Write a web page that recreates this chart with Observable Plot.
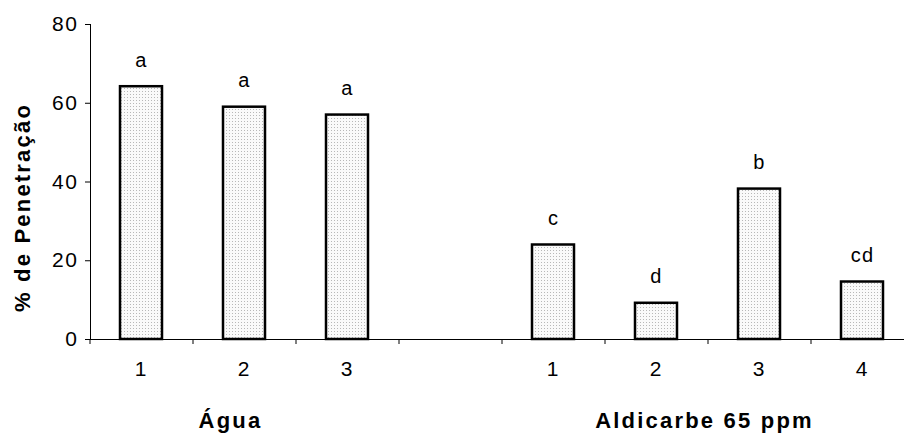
<!DOCTYPE html>
<html>
<head>
<meta charset="utf-8">
<script src="https://cdn.jsdelivr.net/npm/d3@7"></script>
<script src="https://cdn.jsdelivr.net/npm/@observablehq/plot@0.6"></script>
<style>
  html, body { margin: 0; padding: 0; background: #fff; overflow: hidden; }
  #chart svg { font-family: "Liberation Sans", Arial, sans-serif; letter-spacing: 1.2px; }
  #chart svg g[font-weight="bold"] { letter-spacing: 2.2px; }
  #chart svg g[aria-label$="tick label"] { font-size: 21px; letter-spacing: 1.6px; }
</style>
</head>
<body>
<div id="chart"></div>
<script>
// ---- data ----
const groupOf = ["Água", "Água", "Água", "Aldicarbe 65 ppm", "Aldicarbe 65 ppm", "Aldicarbe 65 ppm", "Aldicarbe 65 ppm"];
const levels = ["1", "2", "3", "1", "2", "3", "4"];
const penetration = [64.2, 59.0, 57.0, 24.0, 9.2, 38.2, 14.6];
const letters = ["a", "a", "a", "c", "d", "b", "cd"];
const yTicks = [0, 20, 40, 60, 80];
const yTitle = "% de Penetração";

// ---- table ----
const rows = levels.map((lv, i) => ({
  key: groupOf[i] + "-" + lv,
  group: groupOf[i],
  level: lv,
  value: penetration[i],
  letter: letters[i]
}));
const gapKey = "gap";
const domain = [
  ...rows.filter(d => d.group === "Água").map(d => d.key),
  gapKey,
  ...rows.filter(d => d.group !== "Água").map(d => d.key)
];
const labelOf = new Map(rows.map(d => [d.key, d.level]));
const step = 103;

const chart = Plot.plot({
  width: 904,
  height: 433,
  marginTop: 24,
  marginBottom: 94,
  marginLeft: 90,
  marginRight: 0,
  style: { fontFamily: "'Liberation Sans', Arial, sans-serif", color: "#000", background: "#fff" },
  x: { type: "band", domain, range: [90, 914], paddingInner: 0.592, paddingOuter: 0.296 },
  y: { domain: [0, 80] },
  marks: [
    Plot.barY(rows, { x: "key", y: "value", fill: "url(#stipple)", stroke: "#000", strokeWidth: 2.5 }),
    Plot.text(rows, { x: "key", y: "value", text: "letter", dy: -20, lineAnchor: "bottom",
      fontSize: 20, fill: "#000" }),
    Plot.ruleY([0], { stroke: "#000", strokeWidth: 1 }),
    Plot.frame({ anchor: "left", stroke: "#000", strokeWidth: 1 }),
    Plot.axisY({ ticks: yTicks, tickSize: 5, tickPadding: 7, fontSize: 21, label: null, stroke: "#000", fill: "#000" }),
    // tick marks at band boundaries
    Plot.axisX({ tickSize: 5, dx: -step / 2, tickFormat: () => "", label: null, stroke: "#000" }),
    // level labels
    Plot.axisX({ tickSize: 0, tickPadding: 22, fontSize: 21, label: null, fill: "#000",
      tickFormat: k => labelOf.get(k) || "" }),
    // group labels
    Plot.text(["Água"], { x: () => "Água-2", frameAnchor: "bottom", dy: 88, dx: -14, lineAnchor: "bottom",
      fontSize: 22, fontWeight: "bold", fill: "#000" }),
    Plot.text(["Aldicarbe 65 ppm"], { x: () => "Aldicarbe 65 ppm-2", frameAnchor: "bottom", dy: 88, dx: 48, lineAnchor: "bottom",
      fontSize: 22, fontWeight: "bold", fill: "#000" }),
    // y title
    Plot.text([yTitle], { frameAnchor: "left", textAnchor: "middle", rotate: -90, dx: -68, dy: 25.5,
      fontSize: 22, fontWeight: "bold", fill: "#000" })
  ]
});

// stipple pattern for the bar fill
const svg = d3.select(chart);
const defs = svg.insert("defs", ":first-child");
const pat = defs.append("pattern").attr("id", "stipple").attr("patternUnits", "userSpaceOnUse")
  .attr("width", 3).attr("height", 3);
pat.append("rect").attr("width", 3).attr("height", 3).attr("fill", "#fafafa");
pat.append("rect").attr("x", 1).attr("y", 1).attr("width", 1).attr("height", 1).attr("fill", "#b8b8b8");

document.getElementById("chart").appendChild(chart);
</script>
</body>
</html>
